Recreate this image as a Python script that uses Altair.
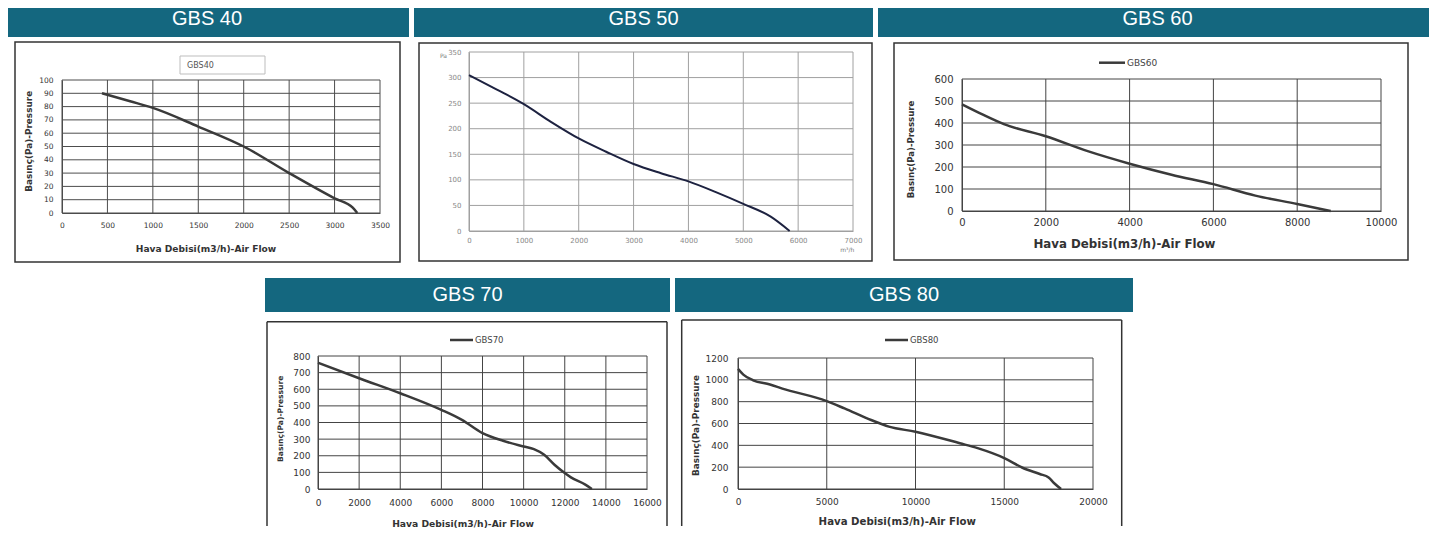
import altair as alt
import pandas as pd

# ---------------- data ----------------
gbs40_flow = [440, 750, 1000, 1500, 2000, 2500, 3000, 3200, 3250]
gbs40_pressure = [90, 84, 79, 65, 50, 30, 11, 4, 0]

gbs50_flow = [0, 500, 1000, 1500, 2000, 2500, 3000, 3500, 4000, 4500, 5000, 5500, 5845]
gbs50_pressure = [305, 277, 248, 213, 181, 155, 131, 113, 97, 76, 53, 28, 0]

gbs60_flow = [0, 500, 1000, 2000, 3000, 4000, 5000, 6000, 7000, 8000, 8800]
gbs60_pressure = [485, 438, 395, 340, 272, 215, 165, 122, 70, 32, 0]

gbs70_flow = [0, 2000, 4000, 6000, 7000, 8000, 9000, 10000, 10500, 11000, 11500, 12000, 12300, 13000, 13320]
gbs70_pressure = [760, 666, 576, 476, 416, 336, 290, 256, 240, 206, 146, 96, 70, 26, 0]

gbs80_flow = [0, 300, 850, 1800, 2500, 5000, 6000, 7500, 8500, 10000, 12500, 13500, 15000, 16000, 17000, 17500, 17800, 18200]
gbs80_pressure = [1100, 1048, 996, 957, 920, 805, 738, 632, 571, 525, 419, 374, 283, 197, 137, 106, 55, 0]

headers = ["GBS 40", "GBS 50", "GBS 60", "GBS 70", "GBS 80"]
legend_labels = ["GBS40", "GBS60", "GBS70", "GBS80"]
x_title = "Hava Debisi(m3/h)-Air Flow"
y_title = "Basınç(Pa)-Pressure"
gbs50_x_unit = "m³/h"
gbs50_y_unit = "Pa"

x_ticks_40 = [0, 500, 1000, 1500, 2000, 2500, 3000, 3500]
y_ticks_40 = [0, 10, 20, 30, 40, 50, 60, 70, 80, 90, 100]
x_ticks_50 = [0, 1000, 2000, 3000, 4000, 5000, 6000, 7000]
y_ticks_50 = [0, 50, 100, 150, 200, 250, 300, 350]
x_ticks_60 = [0, 2000, 4000, 6000, 8000, 10000]
y_ticks_60 = [0, 100, 200, 300, 400, 500, 600]
x_ticks_70 = [0, 2000, 4000, 6000, 8000, 10000, 12000, 14000, 16000]
y_ticks_70 = [0, 100, 200, 300, 400, 500, 600, 700, 800]
x_ticks_80 = [0, 5000, 10000, 15000, 20000]
y_ticks_80 = [0, 200, 400, 600, 800, 1000, 1200]

# ---------------- styling helpers ----------------
FONT = "DejaVu Sans"
HFONT = "Liberation Sans"
TEAL = "#14677f"
ONE = pd.DataFrame({"k": [0]})


def rect(x, x2, y, y2, **kw):
    return alt.Chart(ONE).mark_rect(**kw).encode(
        x=alt.value(x), x2=alt.value(x2), y=alt.value(y), y2=alt.value(y2))


def rule(x, y, x2=None, y2=None, **kw):
    enc = dict(x=alt.value(x), y=alt.value(y))
    if x2 is not None:
        enc["x2"] = alt.value(x2)
    if y2 is not None:
        enc["y2"] = alt.value(y2)
    return alt.Chart(ONE).mark_rule(**kw).encode(**enc)


def text(x, y, s, **kw):
    return alt.Chart(ONE).mark_text(**kw).encode(
        x=alt.value(x), y=alt.value(y), text=alt.value(s))


def header(w, h, tx, ty, label):
    return [rect(0, w, 0, h, fill=TEAL),
            text(tx, ty, label, font=HFONT, fontSize=20, color="white",
                 align="center", baseline="alphabetic")]


def box(x, x2, y, y2):
    return [rect(x, x2, y, y2, filled=False, stroke="#333333", strokeWidth=1.5)]


def open_box(x, x2, y, y2):
    kw = dict(color="#333333", strokeWidth=1.5)
    return [rule(x, y, y2=y2, **kw), rule(x, y, x2=x2, **kw), rule(x2, y, y2=y2, **kw)]


def line_legend(lx, lx2, ly, label, size):
    return [rule(lx, ly, x2=lx2, color="#3a3a3a", strokeWidth=2.5),
            text(lx2 + 2, ly, label, font=FONT, fontSize=size, color="#444",
                 align="left", baseline="middle")]


def xl_axis(values, title, lsize, lpad, tsize, tx, ty, offset, dom="#4d4d4d"):
    return alt.Axis(values=values, format="d", grid=False,
                    domain=True, domainColor=dom, domainWidth=1, ticks=False, offset=offset,
                    labelFont=FONT, labelFontSize=lsize, labelColor="#333", labelPadding=lpad,
                    labelFlush=False, labelOverlap=False,
                    title=title, titleFont=FONT, titleFontSize=tsize, titleFontWeight="bold",
                    titleColor="#333", titleX=tx, titleY=ty, titleAlign="center",
                    titleBaseline="middle")


def plot(flow, pressure, xdom, xrange, ydom, yrange, xticks, yticks, xaxis, yaxis,
         grid="#4d4d4d", color="#3a3a3a", width=2.5):
    xs = alt.Scale(domain=xdom, range=xrange, nice=False, zero=False)
    ys = alt.Scale(domain=ydom, range=yrange, nice=False, zero=False)
    vgrid = alt.Chart(pd.DataFrame({"flow": xticks})).mark_rule(color=grid, strokeWidth=1).encode(
        x=alt.X("flow:Q", scale=xs, axis=xaxis),
        y=alt.YDatum(ydom[0], type="quantitative", scale=ys, axis=yaxis),
        y2=alt.datum(ydom[1]))
    hgrid = alt.Chart(pd.DataFrame({"pressure": yticks})).mark_rule(color=grid, strokeWidth=1).encode(
        y=alt.Y("pressure:Q", scale=ys, axis=yaxis),
        x=alt.XDatum(xdom[0], type="quantitative", scale=xs, axis=xaxis),
        x2=alt.datum(xdom[1]))
    df = pd.DataFrame({"flow": flow, "pressure": pressure})
    line = alt.Chart(df).mark_line(color=color, strokeWidth=width, interpolate="monotone").encode(
        x=alt.X("flow:Q", scale=xs, axis=xaxis),
        y=alt.Y("pressure:Q", scale=ys, axis=yaxis),
    )
    return [vgrid, hgrid, line]


# ---------------- GBS 40  (panel origin = header top-left) ----------------
p40 = alt.layer(
    *box(7, 392, 34, 254),
    *header(401, 29, 199, 17, headers[0]),
    rect(172, 257, 48, 66, fill="white", stroke="#bdbdbd", strokeWidth=1),
    text(179, 58, legend_labels[0], font=FONT, fontSize=8, color="#555", align="left", baseline="middle"),
    *plot(gbs40_flow, gbs40_pressure, [0, 3500], [54, 372], [0, 100], [205, 72], x_ticks_40, y_ticks_40,
          xl_axis(x_ticks_40, x_title, 7.5, 8, 9.1, 197.5, 35.3, -49),
          xl_axis(y_ticks_40, y_title, 7.5, 9, 8.9, -33.7, 132.8, -54)),
).properties(width=401, height=254)

# ---------------- GBS 50 ----------------
ax50 = dict(format="d", grid=False, domain=True, domainColor="#a0a0a0",
            ticks=False, labelFont=FONT, labelFontSize=7, labelColor="#888",
            labelFlush=False, labelOverlap=False, titleFont=FONT, titleFontSize=6,
            titleFontWeight="normal", titleColor="#777", titleAlign="center",
            titleBaseline="middle")
p50 = alt.layer(
    *box(5, 458, 35, 253),
    *header(459, 29, 229.5, 17, headers[1]),
    *plot(gbs50_flow, gbs50_pressure, [0, 7000], [55, 439], [0, 350], [223, 44], x_ticks_50, y_ticks_50,
          alt.Axis(values=x_ticks_50, labelPadding=5, title=gbs50_x_unit, titleX=432.7, titleY=18,
                   offset=-30, **ax50),
          alt.Axis(values=y_ticks_50, labelPadding=8, title=gbs50_y_unit, titleX=-26, titleY=47,
                   titleAngle=0, offset=-55, **ax50),
          grid="#a0a0a0", color="#1d2240", width=2),
).properties(width=459, height=253)

# ---------------- GBS 60 ----------------
p60 = alt.layer(
    *box(16, 530, 35, 252),
    *header(551, 29, 279.5, 17, headers[2]),
    *line_legend(221, 247, 54.7, legend_labels[1], 9),
    *plot(gbs60_flow, gbs60_pressure, [0, 10000], [84, 503], [0, 600], [203, 71], x_ticks_60, y_ticks_60,
          xl_axis(x_ticks_60, x_title, 10, 6, 11.8, 246, 32, -49, dom="#444"),
          xl_axis(y_ticks_60, y_title, 10, 9, 8.6, -52, 141, -84, dom="#444"), grid="#444"),
).properties(width=551, height=252)

# ---------------- spacer for the centred second row ----------------
spacer = rect(0, 252, 0, 1, fill="white").properties(width=252, height=1)

# ---------------- GBS 70 ----------------
p70 = alt.layer(
    *open_box(2, 402, 43.7, 248),
    *header(405, 34, 202.5, 23, headers[3]),
    *line_legend(185, 208, 62, legend_labels[2], 8.5),
    *plot(gbs70_flow, gbs70_pressure, [0, 16000], [53, 382], [0, 800], [211, 78], x_ticks_70, y_ticks_70,
          xl_axis(x_ticks_70, x_title, 9, 9, 9.2, 197.5, 34.3, -37, dom="#444"),
          xl_axis(y_ticks_70, y_title, 9, 8, 7.6, -38, 140.3, -53, dom="#444"), grid="#444"),
).properties(width=405, height=248)

# ---------------- GBS 80 ----------------
p80 = alt.layer(
    *open_box(6.7, 446.7, 42, 248),
    *header(458, 34, 229, 23, headers[4]),
    *line_legend(210, 233, 62, legend_labels[3], 8.5),
    *plot(gbs80_flow, gbs80_pressure, [0, 20000], [63, 418], [0, 1200], [211, 80], x_ticks_80, y_ticks_80,
          xl_axis(x_ticks_80, x_title, 9, 8.5, 10.2, 221.7, 32.7, -37, dom="#444"),
          xl_axis(y_ticks_80, y_title, 9, 10, 8.9, -43, 147, -63, dom="#444"), grid="#444"),
).properties(width=458, height=248)

row1 = alt.hconcat(p40, p50, p60, spacing=5)
row2 = alt.hconcat(spacer, p70, p80, spacing=5)

chart = alt.vconcat(row1, row2, spacing=15).properties(
    padding=0, background="white"
).configure_view(stroke=None)

chart.save("out.html", embed_options={"renderer": "svg", "actions": False})
